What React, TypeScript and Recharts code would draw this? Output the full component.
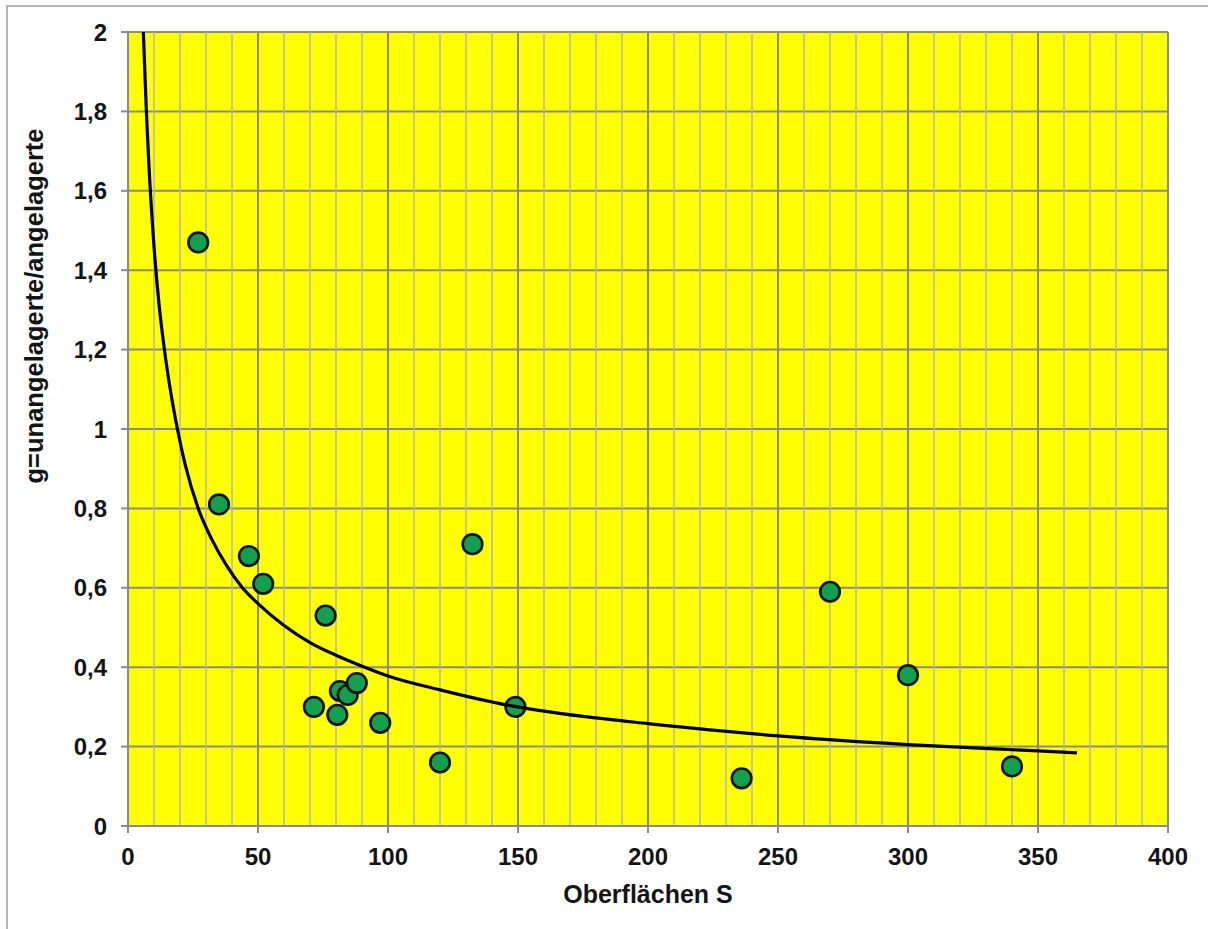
import {
  CartesianGrid,
  ReferenceLine,
  Scatter,
  ScatterChart,
  XAxis,
  YAxis
} from 'recharts';

// measured samples: surface S vs. ratio g (unattached / attached)
const surfaceS = [27, 35, 46.5, 52, 76, 132.5, 71.5, 80.5, 81.5, 84.5, 88, 97, 120, 149, 236, 270, 300, 340];
const ratioG = [1.47, 0.81, 0.68, 0.61, 0.53, 0.71, 0.3, 0.28, 0.34, 0.33, 0.36, 0.26, 0.16, 0.3, 0.12, 0.59, 0.38, 0.15];

// power trend line
const trendS = [5.9, 7, 8, 10, 12, 14, 16, 19, 22, 27, 32, 38, 44, 50, 60, 70, 80, 91, 100, 120, 148, 175, 200, 250, 300, 350, 365];
const trendG = [2.0, 1.81, 1.67, 1.46, 1.31, 1.2, 1.11, 1.0, 0.91, 0.8, 0.725, 0.655, 0.6, 0.56, 0.505, 0.462, 0.43, 0.4, 0.378, 0.343, 0.302, 0.276, 0.258, 0.227, 0.205, 0.189, 0.184];

const xTicks = [0, 50, 100, 150, 200, 250, 300, 350, 400];
const yTicks = [0, 0.2, 0.4, 0.6, 0.8, 1, 1.2, 1.4, 1.6, 1.8, 2];
const minorX = Array.from({ length: 39 }, (_, i) => (i + 1) * 10).filter((v) => v % 50 !== 0);
const majorX = xTicks.slice(1);

const points = surfaceS.map((s, i) => ({ s, g: ratioG[i] }));
const trend = trendS.map((s, i) => ({ s, g: trendG[i] }));

const FONT = '"Liberation Sans", Arial, sans-serif';
const GRID_MAJOR = '#8a8a8a';
const GRID_MINOR = '#b3b0c4';
const TEXT = '#141414';

function Dot(props: any) {
  const { cx, cy } = props;
  if (cx == null || cy == null) return <g />;
  return <circle cx={cx} cy={cy} r={9.8} fill="#12a04f" stroke="#111" strokeWidth={2.6} />;
}

function XTitle(props: any) {
  const { x, y, width } = props.viewBox;
  return (
    <text x={x + width / 2} y={y + 77} textAnchor="middle" fill={TEXT}
      fontFamily={FONT} fontWeight="bold" fontSize={25}>
      Oberflächen S
    </text>
  );
}

function YTitle(props: any) {
  const { y } = props.viewBox;
  const cx = 34;
  const cy = y + 274;
  return (
    <text x={cx} y={cy} textAnchor="middle" dominantBaseline="central" fill={TEXT}
      fontFamily={FONT} fontWeight="bold" fontSize={25.5} transform={`rotate(-90, ${cx}, ${cy})`}>
      g=unangelagerte/angelagerte
    </text>
  );
}

const tickStyle = { fill: TEXT, fontSize: 24, fontWeight: 'bold', fontFamily: FONT };

export default function App() {
  return (
    <div style={{ position: 'absolute', left: 0, top: 0, width: 1208, height: 929, background: '#fff', overflow: 'hidden' }}>
      <div style={{ position: 'absolute', left: 6, top: 5, width: 1230, height: 950, border: '2px solid #b4b4b4' }} />
      <ScatterChart
        width={1208}
        height={929}
        margin={{ top: 32, right: 40, bottom: 0, left: 0 }}
        style={{ position: 'absolute', left: 0, top: 0 }}
      >
        <CartesianGrid fill="#ffff00" vertical={false} stroke={GRID_MAJOR} strokeWidth={2} />
        {minorX.map((v) => (
          <ReferenceLine key={`m${v}`} x={v} stroke={GRID_MINOR} strokeWidth={1.5} />
        ))}
        {majorX.map((v) => (
          <ReferenceLine key={`M${v}`} x={v} stroke={GRID_MAJOR} strokeWidth={2} />
        ))}
        <XAxis
          type="number"
          dataKey="s"
          domain={[0, 400]}
          ticks={xTicks}
          height={103}
          tickSize={7}
          tickMargin={15}
          tick={tickStyle}
          axisLine={{ stroke: GRID_MAJOR, strokeWidth: 2 }}
          tickLine={{ stroke: GRID_MAJOR, strokeWidth: 2 }}
          label={<XTitle />}
        />
        <YAxis
          type="number"
          dataKey="g"
          domain={[0, 2]}
          ticks={yTicks}
          width={128}
          tickSize={7}
          tickMargin={14}
          tick={tickStyle}
          tickFormatter={(v: number) => String(v).replace('.', ',')}
          axisLine={{ stroke: GRID_MAJOR, strokeWidth: 2 }}
          tickLine={{ stroke: GRID_MAJOR, strokeWidth: 2 }}
          label={<YTitle />}
        />
        <Scatter data={points} shape={<Dot />} isAnimationActive={false} />
        <Scatter
          data={trend}
          line={{ stroke: '#000', strokeWidth: 3.2 }}
          lineJointType="monotoneX"
          shape={() => <g />}
          isAnimationActive={false}
        />
      </ScatterChart>
    </div>
  );
}
